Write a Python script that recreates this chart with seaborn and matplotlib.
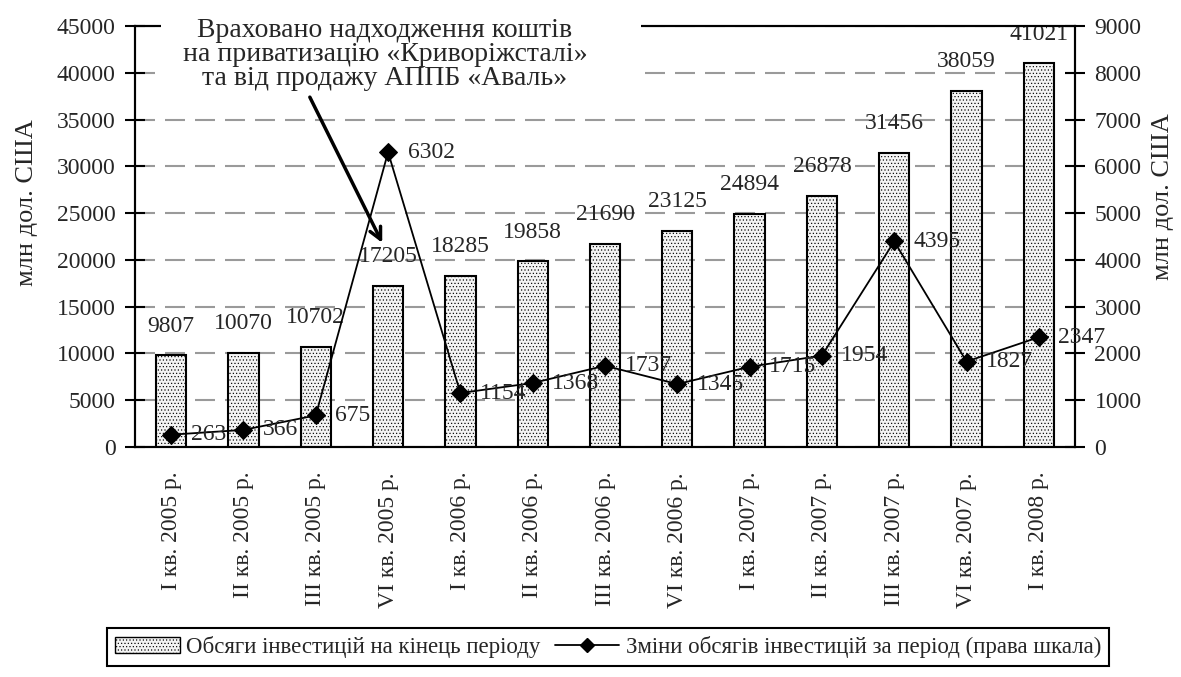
import matplotlib
matplotlib.use('Agg')
import matplotlib.pyplot as plt
import seaborn as sns
import numpy as np
import pandas as pd
from matplotlib.lines import Line2D
from matplotlib.patches import Patch, Rectangle

periods = ["I кв. 2005 р.", "II кв. 2005 р.", "III кв. 2005 р.", "VI кв. 2005 р.",
           "I кв. 2006 р.", "II кв. 2006 р.", "III кв. 2006 р.", "VI кв. 2006 р.",
           "I кв. 2007 р.", "II кв. 2007 р.", "III кв. 2007 р.", "VI кв. 2007 р.",
           "I кв. 2008 р."]
volumes = [9807, 10070, 10702, 17205, 18285, 19858, 21690, 23125, 24894, 26878, 31456, 38059, 41021]
changes = [263, 366, 675, 6302, 1154, 1368, 1737, 1345, 1715, 1954, 4395, 1827, 2347]
left_ticks = list(range(0, 45001, 5000))
right_ticks = list(range(0, 9001, 1000))
bar_label = "Обсяги інвестицій на кінець періоду"
line_label = "Зміни обсягів інвестицій за період (права шкала)"
note = "Враховано надходження коштів\nна приватизацію «Криворіжсталі»\nта від продажу АППБ «Аваль»"
ylabel = "млн дол. США"

sns.set_theme(style='white')
plt.rcParams['font.family'] = ['Liberation Serif', 'DejaVu Serif']
plt.rcParams['hatch.linewidth'] = 0.45

df = pd.DataFrame({'period': periods, 'volume': volumes, 'change': changes})
pos = np.arange(len(periods))

W, H = 1181, 677
fig = plt.figure(figsize=(W / 100, H / 100), dpi=100)
ax = fig.add_axes([135 / W, 1 - 447 / H, 940 / W, 421 / H])

bar_fc = '#f4f4f4'
sns.barplot(data=df, x='period', y='volume', ax=ax, color=bar_fc, edgecolor='black',
            linewidth=1.5, width=0.42, hatch='.....', zorder=3, saturation=1)
ax.set_ylim(0, 45000)
ax.set_xlim(-0.5, len(periods) - 0.5)
ax.set_yticks(left_ticks)
ax.set_yticklabels([str(t) for t in left_ticks], fontsize=17)
ax.yaxis.grid(True, color='#9a9a9a', lw=1.5, ls=(0, (9.6, 4.8)))
ax.xaxis.grid(False)
ax.set_axisbelow(True)

ax.set_xticks(pos)
ax.set_xticklabels(periods, rotation=90, fontsize=17)
ax.set_xticks(np.arange(-0.5, len(periods)), minor=True)
ax.tick_params(axis='x', which='major', length=0, pad=18)
ax.tick_params(axis='x', which='minor', length=14, width=1.5, direction='inout', color='black')
ax.tick_params(axis='y', which='major', length=14, width=1.5, direction='inout', color='black', pad=7, left=True)
ax.set_xlabel('')
ax.set_ylabel(ylabel, fontsize=19)
ax.yaxis.set_label_coords(-0.103, 0.58)

for s in ax.spines.values():
    s.set_color('black')
    s.set_linewidth(1.5)
    s.set_visible(True)

for i, v in zip(pos, volumes):
    ax.annotate(str(v), (i, v), xytext=(0, 21), textcoords='offset points',
                ha='center', va='center', fontsize=17, zorder=4)

ax2 = ax.twinx()
sns.lineplot(x=pos, y=changes, ax=ax2, color='black', marker='D', markersize=9,
             lw=1.3, markeredgecolor='black', zorder=4)
ax2.set_ylim(0, 9000)
ax2.set_xlim(-0.5, len(periods) - 0.5)
ax2.set_yticks(right_ticks)
ax2.set_yticklabels([str(t) for t in right_ticks], fontsize=17)
ax2.tick_params(axis='y', which='major', length=14, width=1.5, direction='inout', color='black', pad=7, right=True)
ax2.set_ylabel(ylabel, fontsize=19)
ax2.yaxis.set_label_coords(1.082, 0.594)
for s in ax2.spines.values():
    s.set_color('black')
    s.set_linewidth(1.5)

for i, v in zip(pos, changes):
    ax2.annotate(str(v), (i, v), xytext=(14, 0), textcoords='offset points',
                 ha='left', va='center', fontsize=17, zorder=5)

ax2.add_patch(Rectangle((0.0276, 0.836), 0.511, 0.21, transform=ax2.transAxes,
                        facecolor='white', edgecolor='none', clip_on=False, zorder=6))
ax2.text(0.266, 0.933, note, transform=ax2.transAxes, ha='center', va='center',
         fontsize=20, zorder=7, linespacing=0.95)
ax2.annotate('', xy=(0.263, 0.485), xytext=(0.186, 0.831), xycoords='axes fraction',
             arrowprops=dict(arrowstyle='->,head_length=0.7,head_width=0.35', lw=2.5,
                             color='black', shrinkA=0, shrinkB=0), zorder=8)

handles = [Patch(facecolor=bar_fc, edgecolor='black', hatch='.....', lw=1),
           Line2D([0], [0], color='black', marker='D', markersize=7, lw=1.3)]
leg = fig.legend(handles=handles, labels=[bar_label, line_label], loc='center',
                 bbox_to_anchor=(0.515, 1 - 647 / H), ncol=2, frameon=True, fancybox=False,
                 edgecolor='black', fontsize=16.5, handlelength=2.8, columnspacing=0.6,
                 handletextpad=0.3, borderpad=0.35, framealpha=1)
leg.get_frame().set_linewidth(1.5)

fig.savefig('out.png', dpi=100, facecolor='white')
